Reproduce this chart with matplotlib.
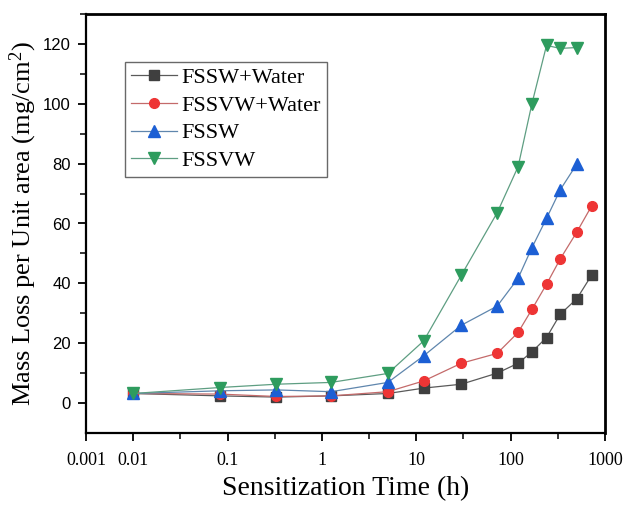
import numpy as np
import matplotlib
matplotlib.use("Agg")
import matplotlib.pyplot as plt

# sensitization times (h)
t = [0.01, 0.083, 0.33, 1.25, 5, 12, 30, 72, 120, 168, 240, 336, 504, 720]

fssw_water = [3.2, 2.4, 2.0, 2.4, 3.2, 5.0, 6.3, 10.0, 13.3, 17.1, 21.9, 29.7, 34.9, 42.7]
fssvw_water = [3.2, 3.0, 2.2, 2.4, 3.8, 7.4, 13.3, 16.6, 23.6, 31.3, 39.7, 48.2, 57.2, 65.8]
fssw = [3.2, 4.1, 4.4, 3.8, 6.9, 15.8, 26.0, 32.4, 41.7, 51.9, 61.7, 71.3, 79.9]
fssvw = [3.2, 5.2, 6.3, 6.9, 9.9, 20.8, 42.7, 63.6, 79.0, 100.0, 119.5, 118.5, 118.8]

labels = ["FSSW+Water", "FSSVW+Water", "FSSW", "FSSVW"]
series = [fssw_water, fssvw_water, fssw, fssvw]
markers = ["s", "o", "^", "v"]
mcolors = ["#3f3f3f", "#ee3535", "#1c5fd4", "#2e9c5e"]
lcolors = ["#5a5a5a", "#c46a6a", "#5f86ad", "#5e9e82"]
msizes = [6.5, 7, 8, 8]

serif = "Liberation Serif"
sans = "Liberation Sans"
plt.rcParams["mathtext.fontset"] = "custom"
plt.rcParams["mathtext.rm"] = serif
plt.rcParams["mathtext.it"] = serif + ":italic"

fig = plt.figure(figsize=(6.27, 5.05), dpi=100)
ax = fig.add_axes([86/627, 1-433/505, (605-86)/627, (433-14)/505])

for ys, lab, m, mc, lc, ms in zip(series, labels, markers, mcolors, lcolors, msizes):
    ax.plot(t[:len(ys)], ys, marker=m, color=lc, lw=0.9, markerfacecolor=mc,
            markeredgecolor=mc, markersize=ms, label=lab)

ax.set_xscale("log")
ax.set_xlim(10**-2.5, 1000)
ax.set_ylim(-10, 130)

xt = [10**-2.5, 0.01, 0.1, 1, 10, 100, 1000]
ax.set_xticks(xt)
ax.set_xticklabels(["0.001", "0.01", "0.1", "1", "10", "100", "1000"],
                   fontfamily=serif, fontsize=13)
ax.set_xticks([10**(k + 0.5) for k in range(-2, 3)], minor=True)
ax.xaxis.set_minor_formatter(matplotlib.ticker.NullFormatter())

ax.set_yticks(range(0, 121, 20))
ax.set_yticklabels([str(v) for v in range(0, 121, 20)], fontfamily=sans, fontsize=12)
ax.set_yticks(range(10, 131, 20), minor=True)

ax.tick_params(which="major", direction="out", length=6, width=1.3, pad=5)
ax.tick_params(which="minor", direction="out", length=4, width=1.1)
ax.tick_params(axis="x", which="major", pad=8)

for side in ["left", "bottom"]:
    ax.spines[side].set_linewidth(1.6)
for side in ["top", "right"]:
    ax.spines[side].set_linewidth(2.0)

ax.set_xlabel("Sensitization Time (h)", fontfamily=serif, fontsize=20, labelpad=5)
ax.set_ylabel("Mass Loss per Unit area (mg/cm$^2$)", fontfamily=serif, fontsize=19,
              labelpad=3)

leg = ax.legend(loc="upper left", bbox_to_anchor=((125-86)/519, 1-(62-14)/419),
                prop={"family": serif, "size": 16}, frameon=True, fancybox=False,
                edgecolor="#444444", labelspacing=0.32, handlelength=2.1,
                handletextpad=0.2, borderpad=0.25, borderaxespad=0)
leg.get_frame().set_linewidth(1.0)

fig.savefig("out.png", dpi=100)
